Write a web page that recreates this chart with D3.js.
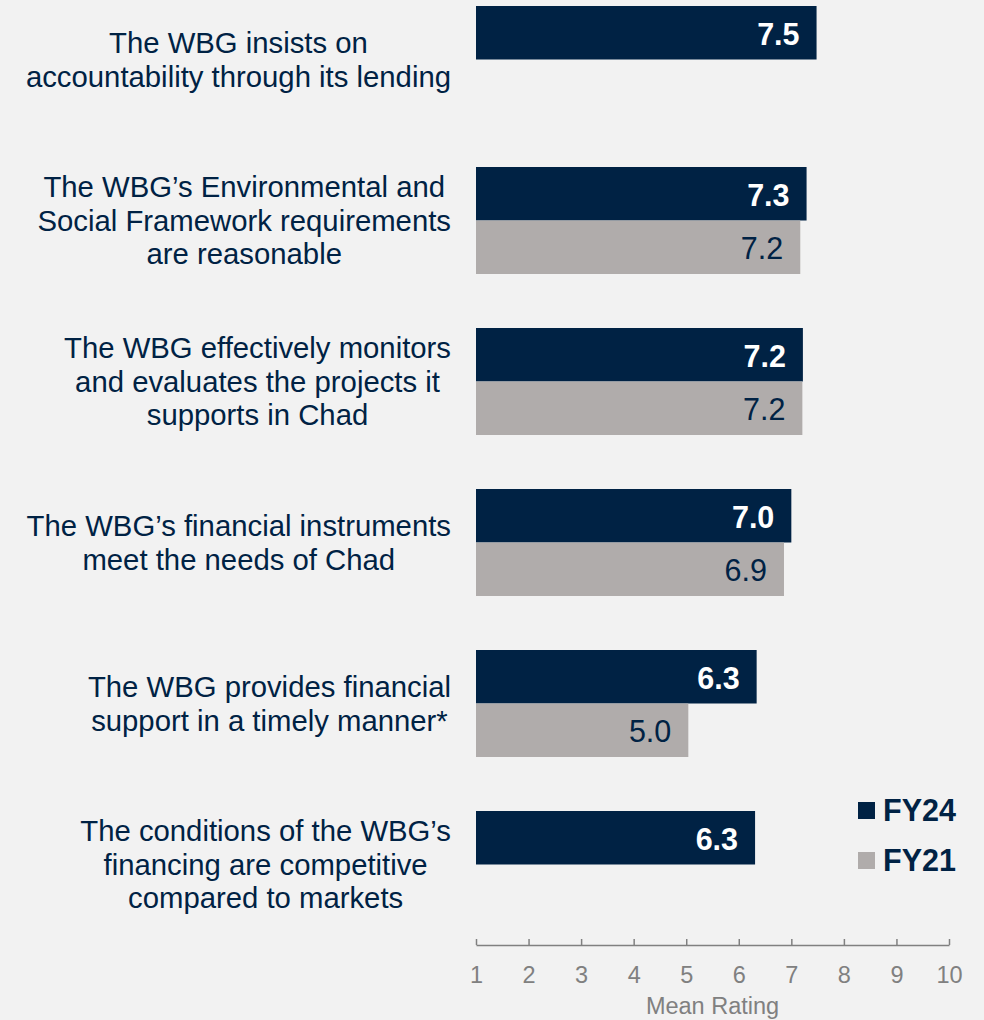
<!DOCTYPE html>
<html>
<head>
<meta charset="utf-8">
<script src="https://cdn.jsdelivr.net/npm/d3@7"></script>
<style>
  html, body { margin: 0; padding: 0; background: #f2f2f2; }
  svg { display: block; font-family: "Liberation Sans", Arial, sans-serif; }
</style>
</head>
<body>
<svg id="chart" width="984" height="1020"></svg>
<script>
const categories = [
  ["The WBG insists on", "accountability through its lending"],
  ["The WBG\u2019s Environmental and", "Social Framework requirements", "are reasonable"],
  ["The WBG effectively monitors", "and evaluates the projects it", "supports in Chad"],
  ["The WBG\u2019s financial instruments", "meet the needs of Chad"],
  ["The WBG provides financial", "support in a timely manner*"],
  ["The conditions of the WBG\u2019s", "financing are competitive", "compared to markets"]
];
const seriesNames = ["FY24", "FY21"];
const fy24 = [7.48, 7.29, 7.22, 7.0, 6.34, 6.31];
const fy21 = [null, 7.17, 7.21, 6.86, 5.04, null];
const tickValues = [1, 2, 3, 4, 5, 6, 7, 8, 9, 10];
const axisTitle = "Mean Rating";

const navy = "#002244";
const gray = "#b0acab";
const axisGray = "#808080";

const svg = d3.select("#chart");

const x = d3.scaleLinear().domain([1, 10]).range([476, 949]);
const y = d3.scaleBand().domain(d3.range(categories.length))
  .range([6, 918]).paddingInner(54 / 161).paddingOuter(0);
const ySub = d3.scaleBand().domain(seriesNames).range([0, y.bandwidth()]);
const color = d3.scaleOrdinal().domain(seriesNames).range([navy, gray]);

const rows = [];
categories.forEach((c, i) => {
  rows.push({ i, s: "FY24", v: fy24[i] });
  if (fy21[i] != null) rows.push({ i, s: "FY21", v: fy21[i] });
});

const fmt = d3.format(".1f");

const g = svg.append("g");
g.selectAll("rect.bar").data(rows).enter().append("rect")
  .attr("class", "bar")
  .attr("x", x(1))
  .attr("y", d => y(d.i) + ySub(d.s))
  .attr("width", d => x(d.v) - x(1))
  .attr("height", ySub.bandwidth())
  .attr("fill", d => color(d.s));

g.selectAll("text.val").data(rows).enter().append("text")
  .attr("class", "val")
  .attr("x", d => x(d.v) - 17)
  .attr("y", d => y(d.i) + ySub(d.s) + ySub.bandwidth() / 2)
  .attr("dy", "0.39em")
  .attr("text-anchor", "end")
  .attr("font-size", 30.5)
  .attr("font-weight", d => d.s === "FY24" ? "bold" : "normal")
  .attr("fill", d => d.s === "FY24" ? "#ffffff" : navy)
  .text(d => fmt(d.v));

// Category labels: block right-aligned at 451, lines centered in block
const lineH = 33.5;
const labelFont = 29.3;
categories.forEach((lines, i) => {
  const mid = y(i) + y.bandwidth() / 2;
  const t = svg.append("text")
    .attr("font-size", labelFont)
    .attr("fill", navy)
    .attr("text-anchor", "middle");
  const n = lines.length;
  const spans = lines.map((ln, k) => t.append("tspan")
    .attr("y", mid + (k - (n - 1) / 2) * lineH)
    .attr("dy", "0.35em")
    .text(ln));
  const maxW = d3.max(spans, s => s.node().getComputedTextLength());
  spans.forEach(s => s.attr("x", 451 - maxW / 2));
});

// Axis
const axis = d3.axisBottom(x).tickValues(tickValues).tickFormat(d3.format("d"))
  .tickSizeInner(-6).tickSizeOuter(0).tickPadding(21);
const ax = svg.append("g").attr("transform", "translate(0,945)").call(axis);
ax.select(".domain").attr("stroke", axisGray).attr("stroke-width", 1.5);
ax.selectAll(".tick line").attr("stroke", axisGray).attr("stroke-width", 1.5);
ax.selectAll(".tick text").attr("fill", axisGray).attr("font-size", 23.5)
  .attr("font-family", "Liberation Sans, Arial, sans-serif");

svg.append("text")
  .attr("x", (x(1) + x(10)) / 2)
  .attr("y", 1014)
  .attr("text-anchor", "middle")
  .attr("font-size", 23.5)
  .attr("fill", axisGray)
  .text(axisTitle);

// Legend
const legend = svg.append("g");
seriesNames.forEach((s, k) => {
  const base = 821 + k * 50;
  legend.append("rect")
    .attr("x", 858).attr("y", base - 19)
    .attr("width", 17).attr("height", 17)
    .attr("fill", color(s));
  legend.append("text")
    .attr("x", 883).attr("y", base)
    .attr("font-size", 30.5)
    .attr("font-weight", "bold")
    .attr("fill", navy)
    .text(s);
});
</script>
</body>
</html>
